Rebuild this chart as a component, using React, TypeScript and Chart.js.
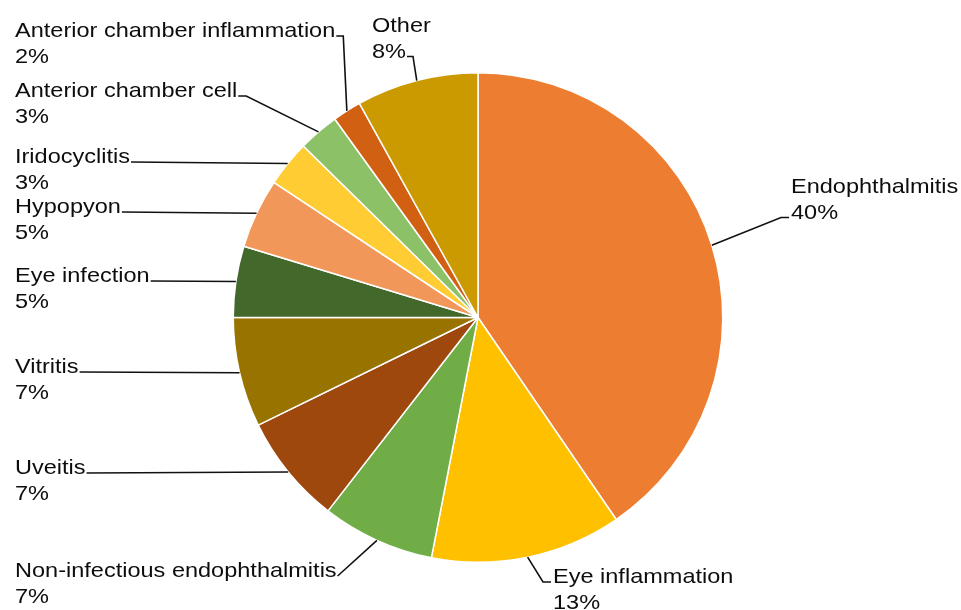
import { useEffect, useRef } from "react";
import { Chart, ArcElement, PieController } from "chart.js";

Chart.register(ArcElement, PieController);

// ---- Data ----
const categories = [
  "Endophthalmitis",
  "Eye inflammation",
  "Non-infectious endophthalmitis",
  "Uveitis",
  "Vitritis",
  "Eye infection",
  "Hypopyon",
  "Iridocyclitis",
  "Anterior chamber cell",
  "Anterior chamber inflammation",
  "Other",
];
const shares = [40.45, 12.6, 7.45, 7.25, 7.25, 4.7, 4.6, 3.05, 2.7, 1.9, 8.05];

// ---- Styles ----
const sliceColors = [
  "#ED7D31",
  "#FFC000",
  "#70AD47",
  "#9E480E",
  "#997300",
  "#43682B",
  "#F1975A",
  "#FFCD33",
  "#8CC168",
  "#D26012",
  "#CB9A00",
];

// Label placement: left x, first-line baseline, which line the leader attaches to,
// which side of that line, and the elbow length of the leader.
const labelLayout = [
  { x: 791, y: 193, line: 1, side: "left", elbow: 8 },
  { x: 553, y: 583, line: 0, side: "left", elbow: 8 },
  { x: 15, y: 577, line: 0, side: "right", elbow: 0 },
  { x: 15, y: 474, line: 0, side: "right", elbow: 0 },
  { x: 15, y: 373, line: 0, side: "right", elbow: 0 },
  { x: 15, y: 282, line: 0, side: "right", elbow: 0 },
  { x: 15, y: 213, line: 0, side: "right", elbow: 0 },
  { x: 15, y: 163, line: 0, side: "right", elbow: 0 },
  { x: 15, y: 97, line: 0, side: "right", elbow: 8 },
  { x: 15, y: 37, line: 0, side: "right", elbow: 7 },
  { x: 372, y: 32, line: 1, side: "right", elbow: 6 },
];

const FONT = "21px 'Liberation Sans', Arial, sans-serif";
const XSCALE = 1.12;
const LINE_GAP = 25.5;

const calloutPlugin = {
  id: "callouts",
  afterDatasetsDraw(chart: any) {
    const ctx = chart.ctx as CanvasRenderingContext2D;
    const meta = chart.getDatasetMeta(0);
    const values: number[] = chart.data.datasets[0].data;
    const total = values.reduce((a, b) => a + b, 0);
    ctx.save();
    ctx.font = FONT;
    ctx.textBaseline = "alphabetic";
    ctx.textAlign = "left";
    meta.data.forEach((arc: any, i: number) => {
      const p = arc.getProps(["x", "y", "startAngle", "endAngle", "outerRadius"], true);
      const mid = (p.startAngle + p.endAngle) / 2;
      const ax = p.x + Math.cos(mid) * p.outerRadius;
      const ay = p.y + Math.sin(mid) * p.outerRadius;
      const lay = labelLayout[i];
      const lines = [String(chart.data.labels[i]), Math.round((values[i] / total) * 100) + "%"];

      // text
      ctx.fillStyle = "#0d0d0d";
      lines.forEach((t, k) => {
        ctx.save();
        ctx.translate(lay.x, lay.y + k * LINE_GAP);
        ctx.scale(XSCALE, 1);
        ctx.fillText(t, 0, 0);
        ctx.restore();
      });

      // leader
      const w = ctx.measureText(lines[lay.line]).width * XSCALE;
      const ly = lay.y + lay.line * LINE_GAP - 1;
      let ex: number, bx: number;
      if (lay.side === "right") {
        ex = lay.x + w + 1;
        bx = ex + lay.elbow;
      } else {
        ex = lay.x - 2;
        bx = ex - lay.elbow;
      }
      ctx.strokeStyle = "#111111";
      ctx.lineWidth = 1.6;
      ctx.beginPath();
      ctx.moveTo(ax, ay);
      ctx.lineTo(bx, ly);
      ctx.lineTo(ex, ly);
      ctx.stroke();
    });
    ctx.restore();
  },
};

export default function App() {
  const canvasRef = useRef<HTMLCanvasElement | null>(null);

  useEffect(() => {
    if (!canvasRef.current) return;
    const chart = new Chart(canvasRef.current, {
      type: "pie",
      data: {
        labels: categories,
        datasets: [
          {
            data: shares,
            backgroundColor: sliceColors,
            borderColor: "#ffffff",
            borderWidth: 1.5,
          },
        ],
      },
      options: {
        animation: false,
        responsive: true,
        maintainAspectRatio: false,
        layout: { padding: { left: 232, right: 237, top: 72, bottom: 47 } },
        plugins: { legend: { display: false }, tooltip: { enabled: false } },
      },
      plugins: [calloutPlugin],
    });
    return () => chart.destroy();
  }, []);

  return (
    <div style={{ position: "fixed", left: 0, top: 0, width: 961, height: 610, background: "#ffffff" }}>
      <canvas ref={canvasRef} />
    </div>
  );
}
